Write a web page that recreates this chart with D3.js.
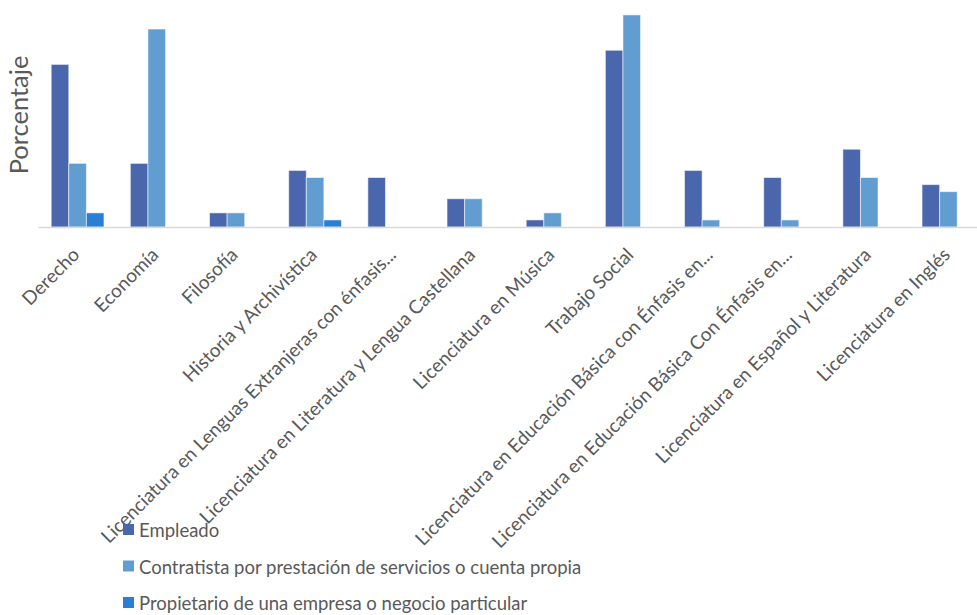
<!DOCTYPE html>
<html>
<head>
<meta charset="utf-8">
<script src="https://cdn.jsdelivr.net/npm/d3@7"></script>
<style>
  body { margin: 0; background: #fff; }
  svg { display: block; font-family: Lato, "Open Sans", sans-serif; }
</style>
</head>
<body>
<svg id="chart" width="977" height="615"></svg>
<script>
const categories = [
  'Derecho',
  'Economía',
  'Filosofía',
  'Historia y Archivística',
  'Licenciatura en Lenguas Extranjeras con énfasis...',
  'Licenciatura en Literatura y Lengua Castellana',
  'Licenciatura en Música',
  'Trabajo Social',
  'Licenciatura en Educación Básica con Énfasis en...',
  'Licenciatura en Educación Básica Con Énfasis en...',
  'Licenciatura en Español y Literatura',
  'Licenciatura en Inglés'
];
const seriesNames = [
  'Empleado',
  'Contratista por prestación de servicios o cuenta propia',
  'Propietario de una empresa o negocio particular'
];
const empleado =    [23, 9, 2, 8, 7, 4, 1, 25, 8, 7, 11, 6];
const contratista = [9, 28, 2, 7, 0, 4, 2, 30, 1, 1, 7, 5];
const propietario = [2, 0, 0, 1, 0, 0, 0, 0, 0, 0, 0, 0];
const colors = ['#4a66ac', '#629dd1', '#297fd5'];

const svg = d3.select('#chart');
const baseY = 227;

const x = d3.scaleBand()
  .domain(categories)
  .range([38, 988])
  .paddingInner(0)
  .paddingOuter(0);

// three bars per group, gap on both sides
const sub = d3.scaleBand()
  .domain(seriesNames)
  .range([0, x.bandwidth()])
  .paddingInner(0)
  .paddingOuter(0.75);

const y = d3.scaleLinear()
  .domain([0, 32])
  .range([baseY, baseY - 32 * 7.07]);

const rows = categories.map((c, i) => ({
  cat: c,
  vals: [empleado[i], contratista[i], propietario[i]]
}));

const groups = svg.selectAll('.grp').data(rows).enter()
  .append('g')
  .classed('grp', true)
  .attr('transform', (d) => `translate(${x(d.cat)},0)`);

groups.selectAll('rect')
  .data((d) => d.vals.map((v, k) => ({ v, k })).filter((e) => e.v > 0))
  .enter()
  .append('rect')
  .attr('x', (d) => sub(seriesNames[d.k]))
  .attr('width', sub.bandwidth())
  .attr('y', (d) => y(d.v))
  .attr('height', (d) => baseY - y(d.v))
  .attr('fill', (d) => colors[d.k])
  .attr('stroke', 'rgba(255,255,255,0.55)')
  .attr('stroke-width', 1);

// category axis
const xAxis = svg.append('g')
  .attr('transform', `translate(0,${baseY})`)
  .call(d3.axisBottom(x).tickSize(0).tickPadding(0));
xAxis.select('.domain').attr('stroke', '#d9d9d9').attr('stroke-width', 1.5);
xAxis.selectAll('text')
  .attr('font-family', 'Lato, sans-serif')
  .attr('font-size', 19)
  .attr('fill', '#595959')
  .attr('text-anchor', 'end')
  .attr('dy', null)
  .attr('y', 0)
  .attr('transform', 'translate(3,29) rotate(-45)');

// y axis title
svg.append('text')
  .attr('transform', 'translate(28,115) rotate(-90)')
  .attr('text-anchor', 'middle')
  .attr('font-size', 25.5)
  .attr('fill', '#595959')
  .text('Porcentaje');

// legend
const legend = svg.append('g').attr('transform', 'translate(123,0)');
const items = legend.selectAll('g').data(seriesNames).enter()
  .append('g')
  .attr('transform', (d, i) => `translate(0,${530 + i * 36.5})`);
items.append('rect')
  .attr('x', 0).attr('y', -6)
  .attr('width', 11).attr('height', 11)
  .attr('fill', (d, i) => colors[i]);
items.append('text')
  .attr('x', 16)
  .attr('y', 7)
  .attr('font-size', 18.5)
  .attr('fill', '#595959')
  .text((d) => d);
</script>
</body>
</html>
